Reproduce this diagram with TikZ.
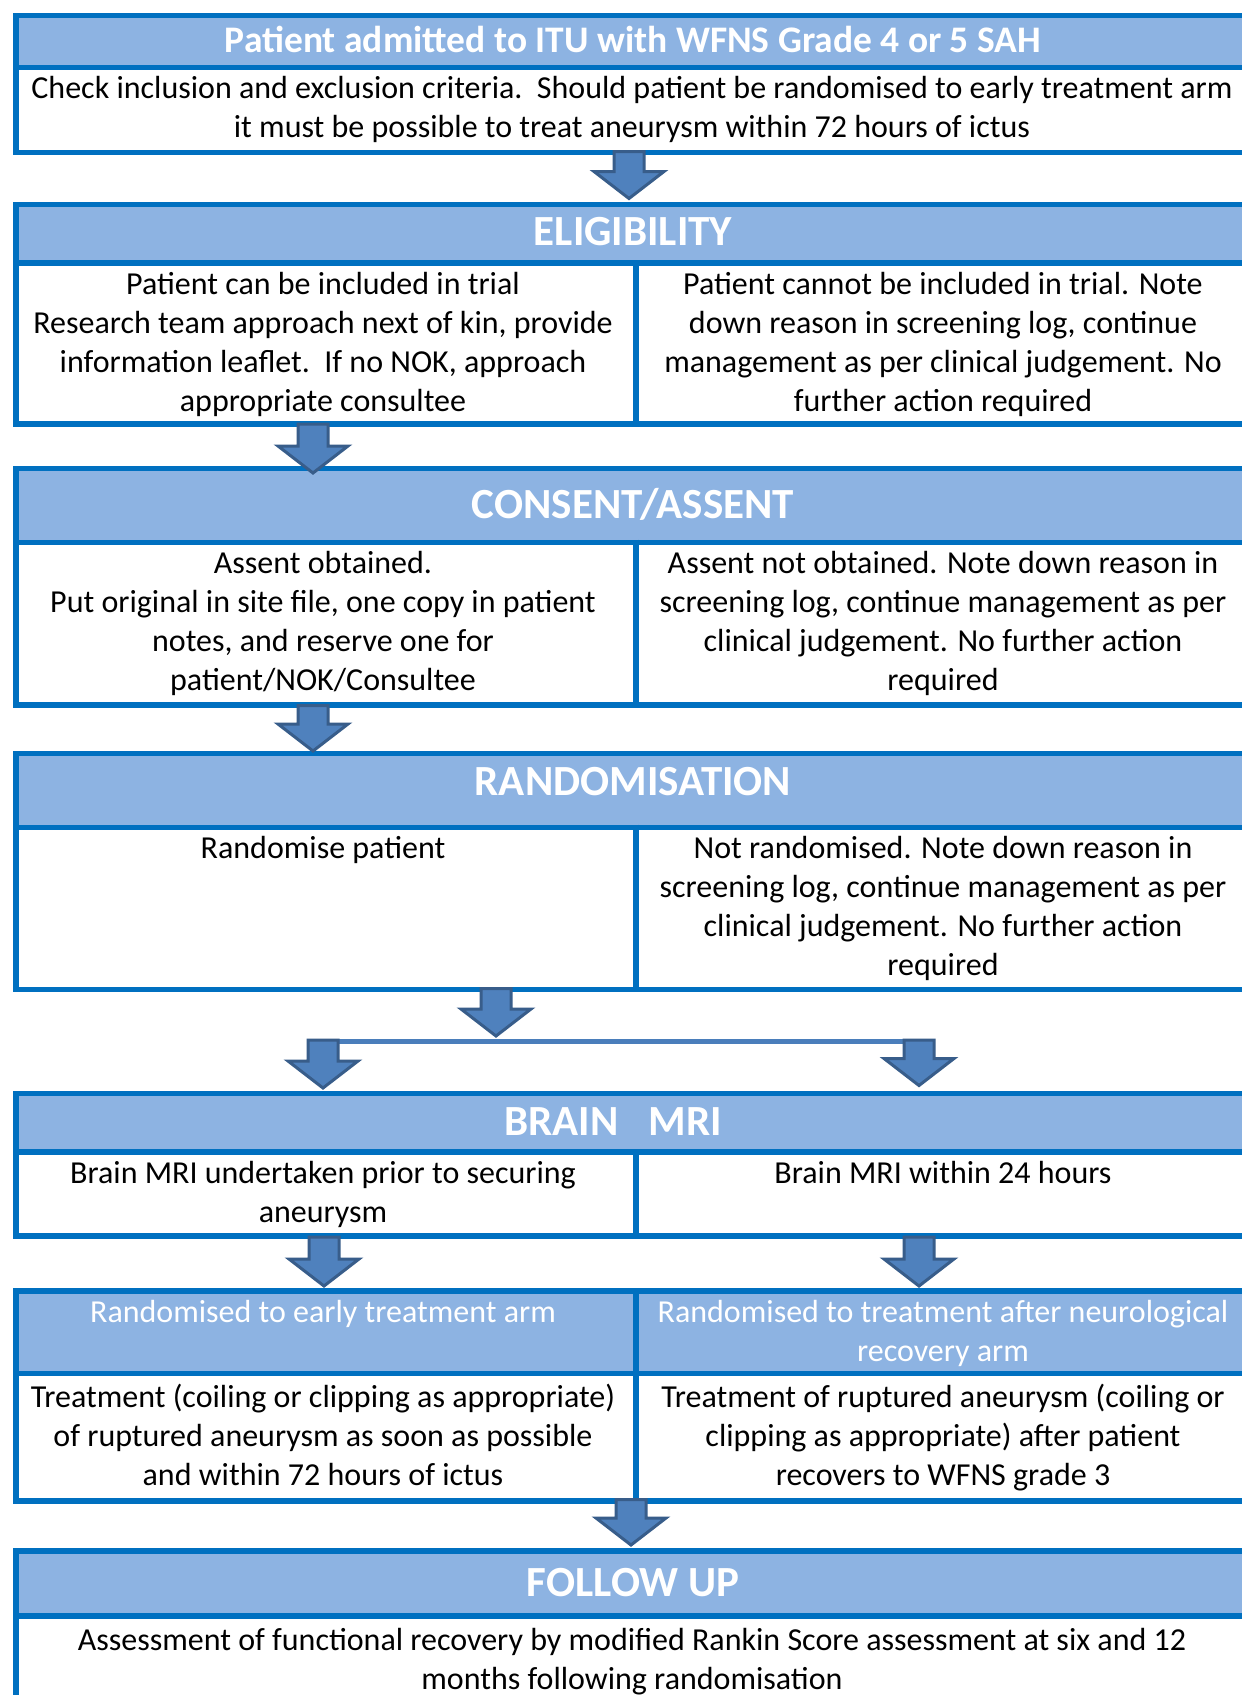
\documentclass[tikz,border=0pt]{standalone}
\usepackage{fontspec}
\setmainfont{Carlito}
\usetikzlibrary{calc}
\definecolor{bordblue}{HTML}{0070C0}
\definecolor{headfill}{HTML}{8DB3E2}
\definecolor{arrfill}{HTML}{4F81BD}
\definecolor{arrdraw}{HTML}{385D8A}
\definecolor{linkblue}{HTML}{4A7EBB}
\newcommand\ts{\rule{0pt}{31pt}}
\tikzset{
  box/.style={rectangle, draw=bordblue, line width=5.5pt, inner sep=0pt, minimum width=1240pt, anchor=north west},
  headbox/.style={box, fill=headfill},
  bodybox/.style={box, fill=white},
  divline/.style={draw=bordblue, line width=5.5pt},
  txt/.style={font=\fontsize{32}{39}\selectfont, align=center, inner sep=0pt, anchor=north},
  htxt/.style={txt, text=white},
  sectxt/.style={font=\fontsize{43}{50}\selectfont\bfseries, text=white, inner sep=0pt, anchor=base},
  toptxt/.style={font=\fontsize{37.5}{45}\selectfont\bfseries, text=white, inner sep=0pt, anchor=base},
  blockarr/.style={fill=arrfill, draw=arrdraw, line width=3pt, line join=miter},
  link/.style={draw=linkblue, line width=5.5pt}
}
\newcommand\blockarrow[2]{%
  \draw[blockarr] let \p1=(#1), \p2=(#2) in
   (\x1-15pt,\y1) -- (\x1+15pt,\y1) -- (\x1+15pt,\y2+27pt) -- (\x1+35pt,\y2+27pt)
   -- (\x2,\y2) -- (\x1-35pt,\y2+27pt) -- (\x1-15pt,\y2+27pt) -- cycle;}
\begin{document}
\begin{tikzpicture}[x=1pt,y=-1pt]
\useasboundingbox (0,0) rectangle (1242,1695);
\clip (0,0) rectangle (1242,1695);
\fill[white] (0,0) rectangle (1242,1695);

% Box 1
\node[headbox, minimum height=52pt] (h1) at (13,12.5) {};
\node[bodybox, minimum height=85pt] (b1) at (13,64.5) {};
\node[toptxt] (h1t) at (633,52) {Patient admitted to ITU with WFNS Grade 4 or 5 SAH};
\node[txt] (b1t) at (632,67.5) {\ts Check inclusion and exclusion criteria.\ \ Should patient be randomised to early treatment arm\\ it must be possible to treat aneurysm within 72 hours of ictus};

% Box 2
\node[headbox, minimum height=58.5pt] (h2) at (13,201.5) {};
\node[bodybox, minimum height=161pt] (b2) at (13,260) {};
\draw[divline] (b2.north) -- (b2.south);
\node[sectxt] (h2t) at (633,245) {ELIGIBILITY};
\node[txt] (b2l) at (323,263) {\ts Patient can be included in trial\\ Research team approach next of kin, provide\\ information leaflet.\ \ If no NOK, approach\\ appropriate consultee};
\node[txt] (b2r) at (943,263) {\ts Patient cannot be included in trial. Note\\ down reason in screening log, continue\\ management as per clinical judgement. No\\ further action required};

% Box 3
\node[headbox, minimum height=74pt] (h3) at (13,465.5) {};
\node[bodybox, minimum height=162.5pt] (b3) at (13,539.5) {};
\draw[divline] (b3.north) -- (b3.south);
\node[sectxt] (h3t) at (633,518) {CONSENT/ASSENT};
\node[txt] (b3l) at (323,542.5) {\ts Assent obtained.\\ Put original in site file, one copy in patient\\ notes, and reserve one for\\ patient/NOK/Consultee};
\node[txt] (b3r) at (943,542.5) {\ts Assent not obtained. Note down reason in\\ screening log, continue management as per\\ clinical judgement. No further action\\ required};

% Box 4
\node[headbox, minimum height=74pt] (h4) at (13,750.5) {};
\node[bodybox, minimum height=162pt] (b4) at (13,824.5) {};
\draw[divline] (b4.north) -- (b4.south);
\node[sectxt] (h4t) at (633,795.5) {RANDOMISATION};
\node[txt] (b4l) at (323,827.5) {\ts Randomise patient};
\node[txt] (b4r) at (943,827.5) {\ts Not randomised. Note down reason in\\ screening log, continue management as per\\ clinical judgement. No further action\\ required};

% Box 5
\node[headbox, minimum height=58.5pt] (h5) at (13,1090.5) {};
\node[bodybox, minimum height=84pt] (b5) at (13,1149) {};
\draw[divline] (b5.north) -- (b5.south);
\node[sectxt] (h5t) at (613,1135) {BRAIN\hspace{0.7em}MRI};
\node[txt] (b5l) at (323,1152) {\ts Brain MRI undertaken prior to securing\\ aneurysm};
\node[txt] (b5r) at (943,1152) {\ts Brain MRI within 24 hours};

% Box 6
\node[headbox, minimum height=82.5pt] (h6) at (13,1288) {};
\node[bodybox, minimum height=127.5pt] (b6) at (13,1370.5) {};
\draw[divline] (h6.north) -- (b6.south);
\node[htxt] (h6l) at (323,1291.5) {\ts Randomised to early treatment arm};
\node[htxt] (h6r) at (943,1291.5) {\ts Randomised to treatment after neurological\\ recovery arm};
\node[txt] (b6l) at (323,1376) {\ts Treatment (coiling or clipping as appropriate)\\ of ruptured aneurysm as soon as possible\\ and within 72 hours of ictus};
\node[txt] (b6r) at (943,1376) {\ts Treatment of ruptured aneurysm (coiling or\\ clipping as appropriate) after patient\\ recovers to WFNS grade 3};

% Box 7
\node[headbox, minimum height=65pt] (h7) at (13,1548) {};
\node[bodybox, minimum height=110pt] (b7) at (13,1613) {};
\node[sectxt] (h7t) at (633,1596) {FOLLOW UP};
\node[txt] (b7t) at (632,1619) {\ts Assessment of functional recovery by modified Rankin Score assessment at six and 12\\ months following randomisation};

% connector points
\coordinate (a1s) at (629,151.5);  \coordinate (a1e) at (629,198.5);
\coordinate (a2s) at (313,424);    \coordinate (a2e) at (313,473);
\coordinate (a3s) at (313,705.5);  \coordinate (a3e) at (313,751);
\coordinate (a4s) at (496,988.5);  \coordinate (a4e) at (496,1036);
\coordinate (spL) at (308,1041.5); \coordinate (spR) at (933,1041.5);
\coordinate (a5Ls) at (323,1040); \coordinate (a5Le) at (323,1088);
\coordinate (a5Rs) at (919,1040); \coordinate (a5Re) at (919,1085.5);
\coordinate (a6Ls) at (324,1237); \coordinate (a6Le) at (324,1286);
\coordinate (a6Rs) at (919,1237); \coordinate (a6Re) at (919,1286);
\coordinate (a7s) at (631,1499.5); \coordinate (a7e) at (631,1545);

\draw[link] (spL) -- (spR);
\blockarrow{a1s}{a1e}
\blockarrow{a2s}{a2e}
\blockarrow{a3s}{a3e}
\blockarrow{a4s}{a4e}
\blockarrow{a5Ls}{a5Le}
\blockarrow{a5Rs}{a5Re}
\blockarrow{a6Ls}{a6Le}
\blockarrow{a6Rs}{a6Re}
\blockarrow{a7s}{a7e}
\end{tikzpicture}
\end{document}
